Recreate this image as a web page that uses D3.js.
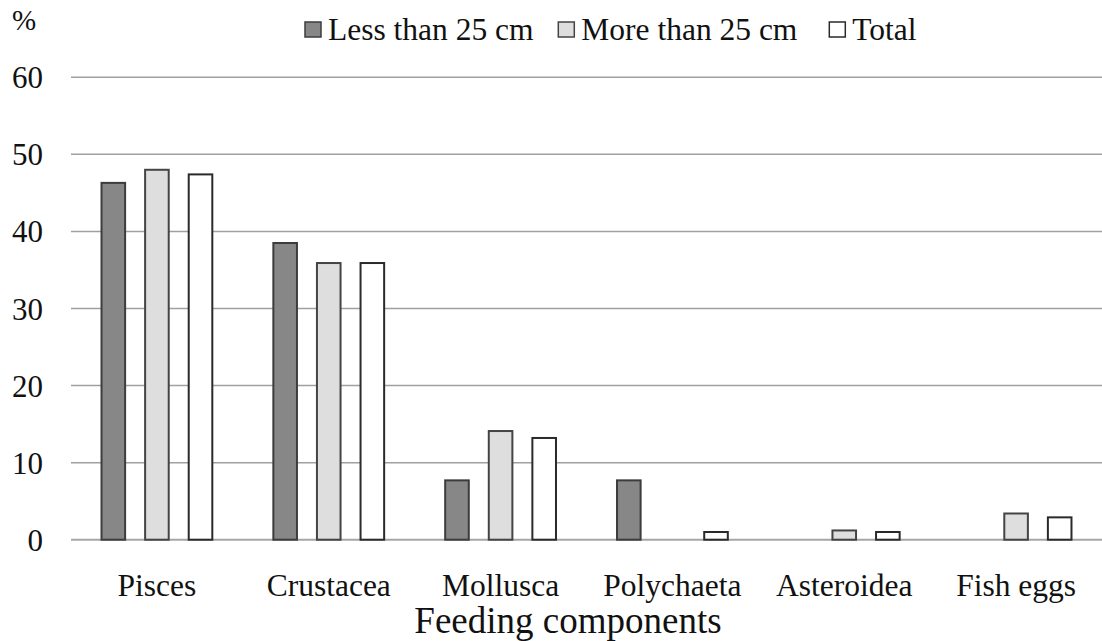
<!DOCTYPE html>
<html>
<head>
<meta charset="utf-8">
<script src="https://cdnjs.cloudflare.com/ajax/libs/d3/7.8.5/d3.min.js"></script>
<style>
  html, body { margin: 0; padding: 0; background: #fff; }
  svg { display: block; }
</style>
</head>
<body>
<svg id="chart" width="1102" height="641"></svg>
<script>
const categories = ["Pisces", "Crustacea", "Mollusca", "Polychaeta", "Asteroidea", "Fish eggs"];
const seriesNames = ["Less than 25 cm", "More than 25 cm", "Total"];
const lessThan25 = [46.3, 38.5, 7.7, 7.7, 0, 0];
const moreThan25 = [48.0, 35.9, 14.1, 0, 1.2, 3.4];
const total = [47.4, 35.9, 13.2, 1.0, 1.0, 2.9];
const yTicks = [0, 10, 20, 30, 40, 50, 60];
const fills = ["#878787", "#dedede", "#ffffff"];
const strokes = ["#3c3c3c", "#444444", "#2a2a2a"];

const seriesValues = [lessThan25, moreThan25, total];
const FONT = "'Liberation Serif', Tinos, 'Times New Roman', serif";

const svg = d3.select("#chart");
const plotLeft = 71, plotRight = 1102, plotTop = 77.3, plotBottom = 539.7;

const x0 = d3.scaleBand().domain(categories).range([plotLeft, plotRight]).paddingInner(0).paddingOuter(0);
const x1 = d3.scaleBand().domain(seriesNames).range([0, x0.bandwidth()]).paddingInner(0.4587).paddingOuter(0.70);
const y = d3.scaleLinear().domain([0, 60]).range([plotBottom, plotTop]);

// gridlines
svg.append("g").selectAll("line").data(yTicks).join("line")
  .attr("x1", plotLeft).attr("x2", plotRight)
  .attr("y1", d => y(d)).attr("y2", d => y(d))
  .attr("stroke", d => d === 0 ? "#a6a6a6" : "#a0a0a0")
  .attr("stroke-width", d => d === 0 ? 2 : 1.5);

// y tick labels
const yAxis = d3.axisLeft(y).tickValues(yTicks).tickSize(0).tickPadding(0).tickFormat(d3.format("d"));
const yg = svg.append("g").attr("transform", "translate(43,0)").call(yAxis);
yg.select(".domain").remove();
yg.attr("font-family", null).attr("font-size", null);
yg.selectAll("text").style("font-family", FONT).style("font-size", "31px").attr("fill", "#111").attr("dy", "0.34em");

svg.append("text").attr("x", 12).attr("y", 30).style("font-family", FONT).style("font-size", "29px").attr("fill", "#111").text("%");

// bars
const groups = svg.append("g").selectAll("g").data(seriesNames).join("g");
groups.each(function(s, si) {
  d3.select(this).selectAll("rect")
    .data(categories.map((c, i) => ({ c, v: seriesValues[si][i] })).filter(d => d.v > 0))
    .join("rect")
    .attr("x", d => x0(d.c) + x1(s))
    .attr("width", x1.bandwidth())
    .attr("y", d => y(d.v))
    .attr("height", d => y(0) - y(d.v))
    .attr("fill", fills[si])
    .attr("stroke", strokes[si])
    .attr("stroke-width", 2);
});

// category labels
const xAxis = d3.axisBottom(x0).tickSize(0).tickPadding(0);
const xg = svg.append("g").call(xAxis);
xg.select(".domain").remove();
xg.attr("font-family", null).attr("font-size", null);
xg.selectAll("text").attr("y", 596).attr("dy", null)
  .style("font-family", FONT).style("font-size", "31.5px").attr("fill", "#111");

// axis title
svg.append("text").attr("x", 568).attr("y", 633).attr("text-anchor", "middle")
  .style("font-family", FONT).style("font-size", "37px").attr("fill", "#111").text("Feeding components");

// legend
const legendX = [305, 558.3, 829.3];
const leg = svg.append("g").selectAll("g").data(seriesNames).join("g")
  .attr("transform", (d, i) => `translate(${legendX[i]},0)`);
leg.append("rect").attr("x", 0).attr("y", 22).attr("width", 16).attr("height", 15)
  .attr("fill", (d, i) => fills[i]).attr("stroke", (d, i) => strokes[i]).attr("stroke-width", 1.5);
leg.append("text").attr("x", 23).attr("y", 40)
  .style("font-family", FONT).style("font-size", "31.5px").attr("fill", "#111").text(d => d);
</script>
</body>
</html>
